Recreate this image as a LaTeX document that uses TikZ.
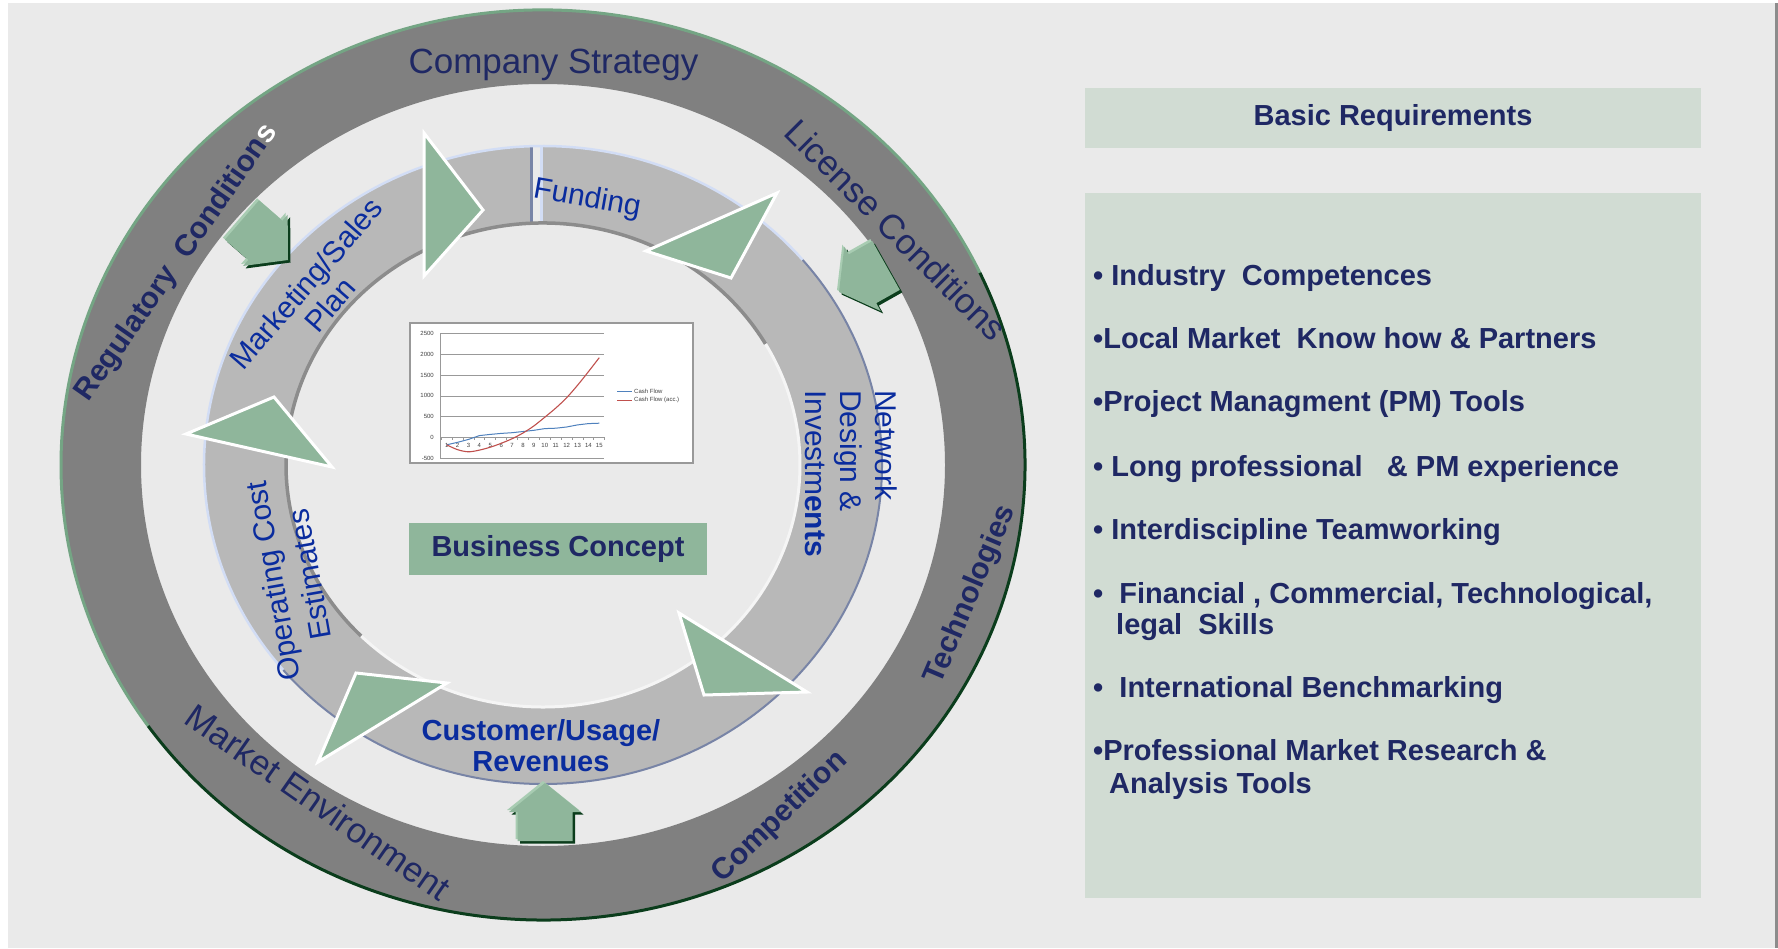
\documentclass[tikz,border=0pt]{standalone}
\usepackage{fontspec}
\setmainfont{Liberation Sans}
\definecolor{bg}{HTML}{EAEAEA}
\definecolor{ringdark}{HTML}{808080}
\definecolor{ringmid}{HTML}{B8B8B8}
\definecolor{green1}{HTML}{8FB69B}
\definecolor{greenlight}{HTML}{A8CCB2}
\definecolor{greendark}{HTML}{0B3D1C}
\definecolor{edgegreen}{HTML}{74A584}
\definecolor{edgeblue}{HTML}{D2DDF5}
\definecolor{edgeslate}{HTML}{7884A6}
\definecolor{edgegray}{HTML}{8C8C8C}
\definecolor{navy}{HTML}{1F2864}
\definecolor{rblue}{HTML}{0A2C9E}
\definecolor{panel}{HTML}{D1DCD3}
\definecolor{cfblue}{HTML}{4F81BD}
\definecolor{cfred}{HTML}{C0504D}
\definecolor{sidestrip}{HTML}{8C8C8C}
\newcommand\blockarrow[7]{%
  \begin{scope}[shift={(#1+2.5,#2+2.5)},rotate=#3]
    \fill[greendark] (0,0) -- (-#4,#5) -- (-#4,#6) -- (-#4-#7,#6) -- (-#4-#7,-#6) -- (-#4,-#6) -- (-#4,-#5) -- cycle;
  \end{scope}
  \begin{scope}[shift={(#1-2,#2-2)},rotate=#3]
    \fill[greenlight] (0,0) -- (-#4,#5) -- (-#4,#6) -- (-#4-#7,#6) -- (-#4-#7,-#6) -- (-#4,-#6) -- (-#4,-#5) -- cycle;
  \end{scope}
  \begin{scope}[shift={(#1,#2)},rotate=#3]
    \fill[green1] (0,0) -- (-#4,#5) -- (-#4,#6) -- (-#4-#7,#6) -- (-#4-#7,-#6) -- (-#4,-#6) -- (-#4,-#5) -- cycle;
  \end{scope}}
\tikzset{
  outerreg/.style={text=navy, font=\fontsize{35}{40}\selectfont},
  outerbold/.style={text=navy, font=\bfseries\fontsize{30}{34}\selectfont},
  innerlbl/.style={text=rblue, font=\fontsize{30}{32}\selectfont, align=center},
  tri/.style={fill=green1, draw=white, line width=3pt, line join=miter},
  listtxt/.style={text=navy, font=\bfseries\fontsize{29}{33}\selectfont, anchor=base west},
  charttxt/.style={font=\fontsize{6}{7}\selectfont, text=black!75},
  chartgrid/.style={draw=black!40, line width=0.7pt},
}
\begin{document}
\begin{tikzpicture}[x=1pt,y=-1pt, every node/.style={inner sep=0pt}]
\useasboundingbox (0,0) rectangle (1778,948);
% background
\fill[white] (0,0) rectangle (1778,948);
\fill[bg] (8,3) rectangle (1775,948);
\fill[sidestrip] (1775,3) rectangle (1778,948);
\coordinate (c) at (543,465);
% outer ring
\fill[ringdark, even odd rule] (c) ellipse [x radius=482pt, y radius=455pt] (c) ellipse [x radius=402pt, y radius=381pt];
\draw[edgegreen, line width=3pt] ([shift={(25:482pt and 455pt)}]c) arc[start angle=25, end angle=215, x radius=482pt, y radius=455pt];
\draw[greendark, line width=3pt] ([shift={(215:482pt and 455pt)}]c) arc[start angle=215, end angle=385, x radius=482pt, y radius=455pt];
% middle ring
\fill[ringmid, even odd rule] (c) ellipse [x radius=339pt, y radius=319pt] (c) ellipse [x radius=257pt, y radius=242pt];
\fill[bg] (533,140) rectangle (540,226);
\draw[edgeslate, line width=2.5pt] (531.5,147) -- (531.5,223);
\draw[edgeblue, line width=2.5pt] (541.5,147) -- (541.5,223);
\draw[edgeblue, line width=2.5pt] ([shift={(40:339pt and 319pt)}]c) arc[start angle=40, end angle=220, x radius=339pt, y radius=319pt];
\draw[edgeslate, line width=2pt] ([shift={(220:339pt and 319pt)}]c) arc[start angle=220, end angle=400, x radius=339pt, y radius=319pt];
\draw[edgegray, line width=3.5pt] ([shift={(30:257pt and 242pt)}]c) arc[start angle=30, end angle=225, x radius=257pt, y radius=242pt];
\draw[white!96!black, line width=3pt] ([shift={(225:257pt and 242pt)}]c) arc[start angle=225, end angle=390, x radius=257pt, y radius=242pt];
% cycle triangles
\draw[tri] (424,133) -- (483,210) -- (424,276) -- cycle;
\draw[tri] (646,251) -- (777,193) -- (731,278) -- cycle;
\draw[tri] (679,613) -- (807,692) -- (704,695) -- cycle;
\draw[tri] (356,673) -- (447,683) -- (318,762) -- cycle;
\draw[tri] (186,434) -- (274,397) -- (332,467) -- cycle;
% block arrows
\blockarrow{288}{260}{-41}{30}{34}{26}{31}
\blockarrow{839}{292}{209.4}{27}{37}{28}{27}
\blockarrow{545}{783}{90}{29}{36}{27.5}{29}
% chart
\node[draw=black!40, line width=1.2pt, fill=white, minimum width=283pt, minimum height=140pt] (chart) at (551.5,393) {};
\foreach \v in {2500,2000,1500,1000,500,0,-500} {
  \draw[chartgrid] (440,{437.3-0.0414*\v}) -- (604,{437.3-0.0414*\v});
  \node[charttxt, anchor=east] (yl\v) at (434,{437.3-0.0414*\v}) {\v};
}
\draw[chartgrid] (440,333) -- (440,458);
\foreach \i in {0,...,15} \draw[chartgrid] ({441.2+\i*10.9},437.3) -- ({441.2+\i*10.9},439.8);
\foreach \i in {1,...,15} \node[charttxt] (xl\i) at ({446.7+(\i-1)*10.9},445) {\i};
\draw[cfblue, line width=1pt] plot coordinates {(446.7,444.8) (457.6,442.3) (468.5,439.4) (479.4,435.6) (490.3,434.4) (501.2,433.4) (512.1,432.7) (523.0,431.5) (533.9,430.3) (544.8,428.6) (555.7,428.2) (566.6,427.0) (577.5,424.9) (588.4,423.6) (599.3,423.2)};
\draw[cfred, line width=1.1pt] plot[smooth] coordinates {(446.7,444.8) (457.6,449.7) (468.5,451.8) (479.4,450.1) (490.3,447.2) (501.2,443.3) (512.1,438.7) (523.0,433.0) (533.9,425.9) (544.8,417.2) (555.7,408.1) (566.6,397.8) (577.5,385.3) (588.4,371.7) (599.3,357.6)};
\draw[cfblue, line width=1pt] (617,391) -- (632,391);
\node[charttxt, anchor=west] (lg1) at (634,391) {Cash Flow};
\draw[cfred, line width=1pt] (617,400) -- (632,400);
\node[charttxt, anchor=west] (lg2) at (634,400) {Cash Flow (acc.)};
% business concept
\node[fill=green1, minimum width=298pt, minimum height=52pt, text=navy, font=\bfseries\fontsize{29}{33}\selectfont] (bc) at (558,549) {Business Concept};
% outer labels
\node[outerreg, anchor=base] (strat) at (553.5,73) {Company Strategy};
\node[outerbold, rotate=55] (reg) at (177,263) {Regulatory\ \ Condition{\color{white}s}};
\node[outerreg, rotate=-45] (lic) at (896,230) {License Conditions};
\node[outerbold, rotate=67] (tech) at (971,595) {Technologies};
\node[outerbold, rotate=44] (comp) at (780,817) {Competition};
\node[outerreg, rotate=-35] (mkt) at (318,802) {Market Environment};
% inner labels
\node[innerlbl, rotate=49] (msp) at (318,294) {Marketing/Sales\\Plan};
\node[innerlbl, rotate=-10] (fund) at (587,199) {Funding};
\node[innerlbl, align=left, rotate=-90, anchor=north west, font=\fontsize{30}{35}\selectfont] (net) at (897,390) {Network\\Design \&\\Investm\textbf{ents}};
\node[innerlbl, rotate=100, font=\fontsize{30}{37}\selectfont] (opc) at (291,578) {Operating Cost\\Estimates};
\node[innerlbl, font=\bfseries\fontsize{29}{31}\selectfont] (cust) at (541,746) {Customer/Usage/\\Revenues};
% right panel
\node[fill=panel, minimum width=616pt, minimum height=60pt, text=navy, font=\bfseries\fontsize{29}{33}\selectfont] (basic) at (1393,118) {Basic Requirements};
\node[fill=panel, minimum width=616pt, minimum height=705pt] (reqbox) at (1393,545.5) {};
\node[listtxt] (r1) at (1093,285) {•\ Industry\ \ Competences};
\node[listtxt] (r2) at (1093,348.5) {•Local Market\ \ Know how \& Partners};
\node[listtxt] (r3) at (1093,411.6) {•Project Managment (PM) Tools};
\node[listtxt] (r4) at (1093,476) {•\ Long professional\ \ \ \& PM experience};
\node[listtxt] (r5) at (1093,539) {•\ Interdiscipline Teamworking};
\node[listtxt] (r6) at (1093,603) {•\ \ Financial , Commercial, Technological,};
\node[listtxt] (r6b) at (1116,634) {legal\ \ Skills};
\node[listtxt] (r7) at (1093,697) {•\ \ International Benchmarking};
\node[listtxt] (r8) at (1093,760.5) {•Professional Market Research \&};
\node[listtxt] (r8b) at (1109,793.5) {Analysis Tools};
\end{tikzpicture}
\end{document}
